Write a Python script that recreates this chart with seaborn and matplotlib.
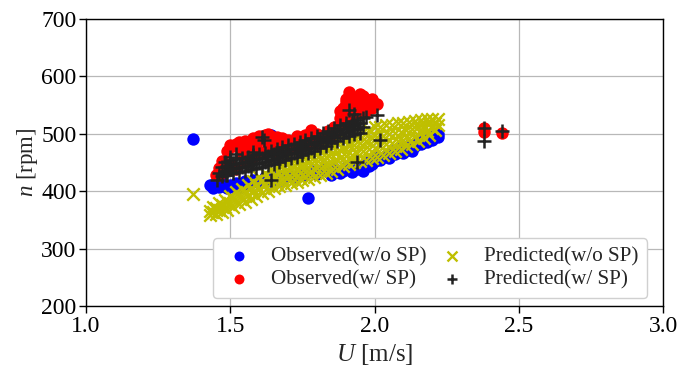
import matplotlib
matplotlib.use("Agg")
import matplotlib.pyplot as plt
import seaborn as sns

# observed, without SP
blue_u = [1.37, 1.43, 1.44, 1.45, 1.46, 1.47, 1.48, 1.49, 1.50, 1.51, 1.52, 1.53, 1.54, 1.55,
          1.56, 1.58, 1.60, 1.62, 1.64, 1.64, 1.66, 1.68, 1.70, 1.72, 1.74, 1.76, 1.77, 1.78,
          1.80, 1.82, 1.84, 1.85, 1.86, 1.88, 1.89, 1.90, 1.92, 1.93, 1.94, 1.95, 1.96, 1.97,
          1.98, 1.99, 2.00, 2.01, 2.02, 2.04, 2.05, 2.06, 2.07, 2.08, 2.09, 2.10, 2.11, 2.12,
          2.13, 2.14, 2.15, 2.16, 2.17, 2.18, 2.19, 2.20, 2.21, 2.22, 2.22]
blue_n = [491, 410, 406, 412, 407, 415, 409, 405, 411, 408, 414, 406, 410, 418,
          412, 420, 415, 424, 498, 418, 426, 420, 430, 425, 432, 428, 388, 435,
          430, 438, 433, 428, 440, 431, 436, 442, 434, 446, 438, 441, 436, 450,
          444, 447, 452, 460, 455, 462, 458, 470, 464, 468, 475, 466, 472, 480,
          470, 478, 485, 482, 490, 486, 495, 489, 498, 494, 500]

# observed, with SP
red_u = [1.45, 1.46, 1.47, 1.48, 1.49, 1.50, 1.51, 1.52, 1.53, 1.54, 1.55, 1.56, 1.57, 1.58,
         1.59, 1.60, 1.61, 1.62, 1.63, 1.64, 1.65, 1.66, 1.67, 1.68, 1.69, 1.70, 1.72, 1.73,
         1.75, 1.76, 1.78, 1.79, 1.80, 1.82, 1.83, 1.85, 1.86, 1.87, 1.88, 1.89, 1.89, 1.90,
         1.90, 1.91, 1.92, 1.92, 1.93, 1.94, 1.94, 1.95, 1.96, 1.97, 1.98, 1.99, 2.01,
         1.46, 1.47, 1.48, 1.50, 1.52, 1.53, 1.55, 1.58, 1.60, 1.63, 1.66, 1.70, 1.73,
         1.76, 1.80, 1.84, 1.86, 1.88, 1.89, 1.90, 1.91, 1.93, 1.95, 1.97, 1.99,
         2.38, 2.38, 2.44]
red_n = [428, 440, 452, 435, 470, 448, 478, 438, 480, 466, 450, 472, 485, 460,
         476, 490, 468, 498, 482, 496, 470, 488, 476, 492, 486, 470, 488, 478,
         492, 482, 506, 490, 480, 496, 486, 500, 492, 512, 528, 545, 520, 560,
         536, 573, 550, 528, 562, 555, 538, 548, 565, 560, 550, 545, 552,
         428, 438, 448, 480, 482, 486, 488, 492, 496, 500, 494, 490, 496,
         498, 500, 505, 512, 540, 535, 555, 525, 545, 570, 540, 560,
         510, 503, 502]

# predicted, without SP
yellow_u = [1.37,
            1.43, 1.43, 1.44, 1.44, 1.45, 1.45, 1.46, 1.46, 1.47, 1.47, 1.48, 1.48,
            1.49, 1.49, 1.50, 1.50, 1.51, 1.51, 1.52, 1.52, 1.53, 1.53, 1.54, 1.54,
            1.55, 1.55, 1.56, 1.56, 1.57, 1.57, 1.58, 1.58, 1.59, 1.59, 1.60, 1.60,
            1.61, 1.61, 1.62, 1.62, 1.63, 1.63, 1.64, 1.64, 1.65, 1.65, 1.66, 1.66,
            1.67, 1.67, 1.68, 1.68, 1.69, 1.69, 1.70, 1.70, 1.71, 1.71, 1.72, 1.72,
            1.73, 1.73, 1.74, 1.74, 1.75, 1.75, 1.76, 1.76, 1.77, 1.77, 1.78, 1.78,
            1.79, 1.79, 1.80, 1.80, 1.81, 1.81, 1.82, 1.82, 1.83, 1.83, 1.84, 1.84,
            1.85, 1.85, 1.86, 1.86, 1.87, 1.87, 1.88, 1.88, 1.89, 1.89, 1.90, 1.90,
            1.91, 1.91, 1.92, 1.92, 1.93, 1.93, 1.94, 1.94, 1.95, 1.95, 1.96, 1.96,
            1.97, 1.97, 1.98, 1.98, 1.99, 1.99, 2.00, 2.00, 2.01, 2.01, 2.02, 2.02,
            2.03, 2.03, 2.04, 2.04, 2.05, 2.05, 2.06, 2.06, 2.07, 2.07, 2.08, 2.08,
            2.09, 2.09, 2.10, 2.10, 2.11, 2.11, 2.12, 2.12, 2.13, 2.13, 2.14, 2.14,
            2.15, 2.15, 2.16, 2.16, 2.17, 2.17, 2.18, 2.18, 2.19, 2.19, 2.20, 2.20,
            2.21, 2.21, 2.22, 2.22]
yellow_n = [396,
            358, 365, 363, 372, 360, 371, 368, 379, 364, 376, 373, 385,
            368, 381, 378, 391, 373, 388, 383, 398, 377, 393, 388, 404,
            382, 399, 394, 411, 387, 406, 398, 417, 391, 411, 404, 424,
            397, 417, 410, 431, 401, 422, 414, 437, 406, 429, 419, 442,
            409, 432, 422, 446, 411, 435, 425, 449, 414, 438, 428, 452,
            416, 441, 431, 456, 419, 444, 434, 459, 422, 449, 436, 463,
            425, 452, 440, 467, 429, 456, 444, 472, 432, 460, 448, 476,
            436, 464, 452, 480, 439, 468, 457, 486, 444, 473, 461, 490,
            447, 478, 463, 494, 450, 481, 466, 498, 452, 484, 470, 503,
            455, 488, 473, 506, 457, 492, 476, 511, 460, 495, 479, 512,
            463, 496, 482, 515, 467, 499, 484, 516, 470, 501, 487, 518,
            474, 503, 490, 519, 478, 506, 493, 520, 482, 509, 497, 522,
            487, 511, 501, 524, 493, 514, 505, 525, 498, 517, 510, 526,
            506, 519, 515, 526]

# predicted, with SP
black_u = [1.47, 1.47, 1.48, 1.48, 1.49, 1.49, 1.50, 1.50, 1.51, 1.51, 1.52, 1.52,
           1.53, 1.53, 1.54, 1.54, 1.55, 1.55, 1.56, 1.56, 1.57, 1.57, 1.58, 1.58,
           1.59, 1.59, 1.60, 1.60, 1.61, 1.61, 1.62, 1.62, 1.63, 1.63, 1.64, 1.64,
           1.65, 1.65, 1.66, 1.66, 1.67, 1.67, 1.68, 1.68, 1.69, 1.69, 1.70, 1.70,
           1.71, 1.71, 1.72, 1.72, 1.73, 1.73, 1.74, 1.74, 1.75, 1.75, 1.76, 1.76,
           1.77, 1.77, 1.78, 1.78, 1.79, 1.79, 1.80, 1.80, 1.81, 1.81, 1.82, 1.82,
           1.83, 1.83, 1.84, 1.84, 1.85, 1.85, 1.86, 1.86, 1.87, 1.87, 1.88, 1.88,
           1.89, 1.89, 1.90, 1.90, 1.91, 1.91, 1.92, 1.92, 1.93, 1.93, 1.94, 1.94,
           1.95, 1.95, 1.96, 1.96,
           1.455, 1.46, 1.485, 1.50, 1.52, 1.58, 1.61, 1.615, 1.64, 1.91, 1.93,
           1.94, 1.97, 2.01, 2.02, 2.38, 2.38, 2.44]
black_n = [426, 442, 435, 451, 428, 444, 438, 454, 431, 447, 440, 456,
           433, 449, 442, 458, 435, 451, 444, 460, 438, 454, 447, 463,
           440, 456, 449, 465, 442, 458, 451, 467, 445, 461, 454, 470,
           448, 464, 458, 474, 451, 467, 461, 477, 454, 470, 464, 480,
           457, 473, 467, 483, 460, 476, 470, 486, 463, 479, 473, 489,
           466, 482, 476, 492, 470, 486, 480, 496, 475, 491, 485, 501,
           479, 495, 489, 505, 484, 500, 494, 510, 488, 504, 499, 515,
           493, 509, 503, 519, 496, 512, 506, 522, 499, 515, 508, 524,
           502, 518, 511, 527,
           420, 432, 428, 460, 465, 468, 494, 489, 420, 541, 535,
           451, 530, 533, 489, 510, 487, 505]

x_ticks = [1.0, 1.5, 2.0, 2.5, 3.0]
y_ticks = [200, 300, 400, 500, 600, 700]

sns.set_style("whitegrid")
plt.rcParams["font.family"] = ["Liberation Serif", "DejaVu Serif"]
plt.rcParams["mathtext.fontset"] = "custom"
plt.rcParams["mathtext.rm"] = "Liberation Serif"
plt.rcParams["mathtext.it"] = "Liberation Serif:italic"

FONT_SIZE_TICKS = 17
FONT_SIZE_LEGEND = 15.2
MS = 80

fig, ax = plt.subplots(figsize=(6.78, 3.71), dpi=100)
fig.subplots_adjust(left=0.127, right=0.978, bottom=0.175, top=0.949)

sns.scatterplot(x=blue_u, y=blue_n, ax=ax, color="b", marker="o", s=MS,
                linewidth=0, label="Observed(w/o SP)", zorder=2)
sns.scatterplot(x=red_u, y=red_n, ax=ax, color="r", marker="o", s=MS,
                linewidth=0, label="Observed(w/ SP)", zorder=2)
sns.scatterplot(x=yellow_u, y=yellow_n, ax=ax, color="y", marker="x", s=MS,
                linewidth=1.7, label="Predicted(w/o SP)", zorder=3)
sns.scatterplot(x=black_u, y=black_n, ax=ax, color="#222222", marker="+", s=90,
                linewidth=1.8, label="Predicted(w/ SP)", zorder=4)

ax.set_xlim(1.0, 3.0)
ax.set_ylim(200, 700)
ax.set_xticks(x_ticks)
ax.set_yticks(y_ticks)
ax.set_xticklabels([f"{t:.1f}" for t in x_ticks])
ax.set_xlabel("$U$ [m/s]", fontsize=18, labelpad=4)
ax.set_ylabel("$n$ [rpm]", fontsize=16.5, labelpad=1)
ax.tick_params(labelsize=FONT_SIZE_TICKS, direction="out", length=5, width=1,
               left=True, bottom=True, colors="black", pad=2)
ax.grid(True, color="#b8b8b8", linewidth=0.9)
ax.set_axisbelow(True)
for sp in ax.spines.values():
    sp.set_color("black")
    sp.set_linewidth(1.0)

ax.legend(loc="lower right", bbox_to_anchor=(0.9725, 0.028), borderaxespad=0,
          ncol=2, fontsize=FONT_SIZE_LEGEND, markerscale=0.8,
          handlelength=1.67, columnspacing=0.36, handletextpad=0.69,
          framealpha=1, edgecolor="#d0d0d0", borderpad=0.4, labelspacing=0.15)

fig.savefig("out.png", dpi=100)
